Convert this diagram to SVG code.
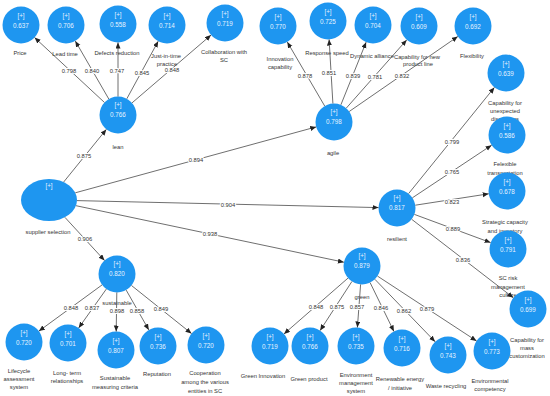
<svg xmlns="http://www.w3.org/2000/svg" width="550" height="396" viewBox="0 0 550 396">
<defs>
<style>
.c{fill:#1e96f0}
.in{font-family:"Liberation Sans",Arial,sans-serif;font-size:6.3px;fill:#e6f3ff;text-anchor:middle}
.lb{font-family:"Liberation Sans",Arial,sans-serif;font-size:5.8px;fill:#333;text-anchor:middle}
.e{stroke:#4a4a4a;stroke-width:0.8;fill:none;marker-end:url(#ah)}
.el{font-family:"Liberation Sans",Arial,sans-serif;font-size:5.8px;fill:#333;text-anchor:middle;stroke:#fff;stroke-width:2.2;paint-order:stroke;stroke-linejoin:round}
</style>
<marker id="ah" markerUnits="userSpaceOnUse" markerWidth="7" markerHeight="6" refX="6" refY="2.5" orient="auto">
<path d="M0,0 L6,2.5 L0,5 z" fill="#222"/>
</marker>
</defs>
<rect width="550" height="396" fill="#fff"/>

<g id="price"><circle class="c" cx="21" cy="25" r="18.5"/><text class="in" x="21" y="18">[+]</text><text class="in" x="21" y="28">0.637</text><text class="lb" x="20" y="55">Price</text></g>
<g id="lead-time"><circle class="c" cx="66" cy="25" r="18.5"/><text class="in" x="66" y="18">[+]</text><text class="in" x="66" y="28">0.706</text><text class="lb" x="65" y="56">Lead time</text></g>
<g id="defects-reduction"><circle class="c" cx="118" cy="24" r="18.5"/><text class="in" x="118" y="17">[+]</text><text class="in" x="118" y="27">0.558</text><text class="lb" x="117" y="55">Defects reduction</text></g>
<g id="just-in-time"><circle class="c" cx="167" cy="25" r="18.5"/><text class="in" x="167" y="18">[+]</text><text class="in" x="167" y="28">0.714</text><text class="lb" x="166" y="58">Just-in-time</text><text class="lb" x="167" y="66">practice</text></g>
<g id="collaboration"><circle class="c" cx="225" cy="23" r="18.5"/><text class="in" x="225" y="16">[+]</text><text class="in" x="225" y="26">0.719</text><text class="lb" x="224" y="54">Collaboration with</text><text class="lb" x="224" y="62">SC</text></g>
<g id="innovation"><circle class="c" cx="278" cy="26" r="18.5"/><text class="in" x="278" y="19">[+]</text><text class="in" x="278" y="29">0.770</text><text class="lb" x="280" y="61">Innovation</text><text class="lb" x="280" y="69">capability</text></g>
<g id="response-speed"><circle class="c" cx="328" cy="21" r="18.5"/><text class="in" x="328" y="14">[+]</text><text class="in" x="328" y="24">0.725</text><text class="lb" x="327" y="55">Response speed</text></g>
<g id="dynamic-alliance"><circle class="c" cx="373" cy="25" r="18.5"/><text class="in" x="373" y="18">[+]</text><text class="in" x="373" y="28">0.704</text><text class="lb" x="372" y="58">Dynamic alliance</text></g>
<g id="new-product-line"><circle class="c" cx="419" cy="26" r="18.5"/><text class="in" x="419" y="19">[+]</text><text class="in" x="419" y="29">0.609</text><text class="lb" x="417" y="59">Capability for new</text><text class="lb" x="418" y="66">product line</text></g>
<g id="flexibility"><circle class="c" cx="473" cy="26" r="18.5"/><text class="in" x="473" y="19">[+]</text><text class="in" x="473" y="29">0.692</text><text class="lb" x="472" y="58">Flexibility</text></g>
<g id="unexpected-disruptions"><circle class="c" cx="506" cy="73" r="18.5"/><text class="in" x="506" y="66">[+]</text><text class="in" x="506" y="76">0.639</text><text class="lb" x="505" y="105">Capability for</text><text class="lb" x="505" y="113">unexpected</text><text class="lb" x="505" y="121">disruptions</text></g>
<g id="flexible-transportation"><circle class="c" cx="507" cy="135" r="18.5"/><text class="in" x="507" y="128">[+]</text><text class="in" x="507" y="138">0.586</text><text class="lb" x="505" y="166">Felexible</text><text class="lb" x="505" y="175">transportation</text></g>
<g id="strategic-capacity"><circle class="c" cx="507" cy="191" r="18.5"/><text class="in" x="507" y="184">[+]</text><text class="in" x="507" y="194">0.678</text><text class="lb" x="505" y="224">Strategic capacity</text><text class="lb" x="505" y="233">and inventory</text></g>
<g id="sc-risk"><circle class="c" cx="508" cy="249" r="18.5"/><text class="in" x="508" y="242">[+]</text><text class="in" x="508" y="252">0.791</text><text class="lb" x="508" y="280">SC risk</text><text class="lb" x="508" y="289">management</text><text class="lb" x="508" y="297">culture</text></g>
<g id="mass-customization"><circle class="c" cx="528" cy="309" r="18.5"/><text class="in" x="528" y="302">[+]</text><text class="in" x="528" y="312">0.699</text><text class="lb" x="527" y="342">Capability for</text><text class="lb" x="527" y="350">mass</text><text class="lb" x="527" y="358">customization</text></g>

<g id="green-innovation"><circle class="c" cx="270" cy="346" r="18.5"/><text class="in" x="270" y="339">[+]</text><text class="in" x="270" y="349">0.719</text><text class="lb" x="263" y="378">Green Innovation</text></g>
<g id="green-product"><circle class="c" cx="310" cy="346" r="18.5"/><text class="in" x="310" y="339">[+]</text><text class="in" x="310" y="349">0.766</text><text class="lb" x="309" y="381">Green product</text></g>
<g id="environment-management"><circle class="c" cx="356" cy="346" r="18.5"/><text class="in" x="356" y="339">[+]</text><text class="in" x="356" y="349">0.735</text><text class="lb" x="356" y="377">Environment</text><text class="lb" x="356" y="385">management</text><text class="lb" x="356" y="393">system</text></g>
<g id="renewable-energy"><circle class="c" cx="402" cy="348" r="18.5"/><text class="in" x="402" y="341">[+]</text><text class="in" x="402" y="351">0.716</text><text class="lb" x="400" y="381">Renewable energy</text><text class="lb" x="400" y="390">/ initiative</text></g>
<g id="waste-recycling"><circle class="c" cx="448" cy="355" r="18.5"/><text class="in" x="448" y="348">[+]</text><text class="in" x="448" y="358">0.743</text><text class="lb" x="446" y="388">Waste recycling</text></g>
<g id="environmental-competency"><circle class="c" cx="492" cy="351" r="18.5"/><text class="in" x="492" y="344">[+]</text><text class="in" x="492" y="354">0.773</text><text class="lb" x="490" y="383">Environmental</text><text class="lb" x="490" y="391">competency</text></g>

<g id="lifecycle"><circle class="c" cx="24" cy="342" r="18.5"/><text class="in" x="24" y="335">[+]</text><text class="in" x="24" y="345">0.720</text><text class="lb" x="19" y="373">Lifecycle</text><text class="lb" x="19" y="381">assessment</text><text class="lb" x="19" y="389">system</text></g>
<g id="long-term"><circle class="c" cx="68" cy="343" r="18.5"/><text class="in" x="68" y="336">[+]</text><text class="in" x="68" y="346">0.701</text><text class="lb" x="67" y="375">Long- term</text><text class="lb" x="67" y="383">relationships</text></g>
<g id="sustainable-measuring"><circle class="c" cx="116" cy="350" r="18.5"/><text class="in" x="116" y="343">[+]</text><text class="in" x="116" y="353">0.807</text><text class="lb" x="115" y="380">Sustainable</text><text class="lb" x="115" y="389">measuring criteria</text></g>
<g id="reputation"><circle class="c" cx="158" cy="346" r="18.5"/><text class="in" x="158" y="339">[+]</text><text class="in" x="158" y="349">0.736</text><text class="lb" x="157" y="376">Reputation</text></g>
<g id="cooperation"><circle class="c" cx="206" cy="345" r="18.5"/><text class="in" x="206" y="338">[+]</text><text class="in" x="206" y="348">0.720</text><text class="lb" x="205" y="375">Cooperation</text><text class="lb" x="205" y="384">among the various</text><text class="lb" x="205" y="393">entities in SC</text></g>

<g id="lean"><circle class="c" cx="118" cy="115" r="18.5"/><text class="in" x="118" y="107">[+]</text><text class="in" x="118" y="117">0.766</text><text class="lb" x="118" y="149">lean</text></g>
<g id="agile"><circle class="c" cx="334" cy="122" r="18.5"/><text class="in" x="334" y="114">[+]</text><text class="in" x="334" y="124">0.798</text><text class="lb" x="333" y="155">agile</text></g>
<g id="resilient"><circle class="c" cx="397" cy="208" r="18.5"/><text class="in" x="397" y="200">[+]</text><text class="in" x="397" y="210">0.817</text><text class="lb" x="397" y="241">resilient</text></g>
<g id="green"><circle class="c" cx="362" cy="266" r="18.5"/><text class="in" x="362" y="258">[+]</text><text class="in" x="362" y="268">0.879</text><text class="lb" x="362" y="299">green</text></g>
<g id="sustainable"><circle class="c" cx="117" cy="274" r="18.5"/><text class="in" x="117" y="266">[+]</text><text class="in" x="117" y="276">0.820</text><text class="lb" x="117" y="305">sustainable</text></g>
<g id="supplier-selection"><ellipse class="c" cx="49" cy="200" rx="28" ry="21"/><text class="in" x="49" y="188">[+]</text><text class="lb" x="48" y="234">supplier selection</text></g>

<g id="connectors">
<line class="e" x1="63.6" y1="182.1" x2="106.3" y2="129.4"/>
<line class="e" x1="75.3" y1="192.8" x2="316.2" y2="126.9"/>
<line class="e" x1="77" y1="200.6" x2="378.5" y2="207.6"/>
<line class="e" x1="76" y1="205.7" x2="343.9" y2="262.2"/>
<line class="e" x1="64.9" y1="217.3" x2="104.5" y2="260.4"/>

<line class="e" x1="104.4" y1="102.4" x2="34.6" y2="37.6"/>
<line class="e" x1="108.8" y1="99" x2="75.3" y2="41"/>
<line class="e" x1="118" y1="96.5" x2="118" y2="42.5"/>
<line class="e" x1="126.8" y1="98.8" x2="158.2" y2="41.2"/>
<line class="e" x1="132" y1="102.9" x2="211" y2="35.1"/>

<line class="e" x1="324.7" y1="106" x2="287.3" y2="42"/>
<line class="e" x1="332.9" y1="103.5" x2="329.1" y2="39.5"/>
<line class="e" x1="340.9" y1="104.8" x2="366.1" y2="42.2"/>
<line class="e" x1="346.3" y1="108.1" x2="406.7" y2="39.9"/>
<line class="e" x1="349.2" y1="111.5" x2="457.8" y2="36.5"/>

<line class="e" x1="408.6" y1="193.6" x2="494.4" y2="87.4"/>
<line class="e" x1="412.4" y1="197.8" x2="491.6" y2="145.2"/>
<line class="e" x1="415.3" y1="205.2" x2="488.7" y2="193.8"/>
<line class="e" x1="414.4" y1="214.4" x2="490.6" y2="242.6"/>
<line class="e" x1="411.7" y1="219.3" x2="513.3" y2="297.7"/>

<line class="e" x1="348" y1="278.1" x2="284" y2="333.9"/>
<line class="e" x1="351.9" y1="281.5" x2="320.1" y2="330.5"/>
<line class="e" x1="360.6" y1="284.4" x2="357.4" y2="327.5"/>
<line class="e" x1="370.1" y1="282.6" x2="393.9" y2="331.4"/>
<line class="e" x1="374.9" y1="279.3" x2="435.1" y2="341.7"/>
<line class="e" x1="377.5" y1="276.1" x2="476.5" y2="340.9"/>

<line class="e" x1="102.1" y1="284.9" x2="38.9" y2="331.1"/>
<line class="e" x1="106.3" y1="289.1" x2="78.7" y2="327.9"/>
<line class="e" x1="116.8" y1="292.5" x2="116.2" y2="331.5"/>
<line class="e" x1="126.2" y1="290.1" x2="148.8" y2="329.9"/>
<line class="e" x1="131.5" y1="285.5" x2="191.5" y2="333.5"/>

<text class="el" x="84" y="158">0.875</text>
<text class="el" x="196" y="162">0.894</text>
<text class="el" x="228" y="207">0.904</text>
<text class="el" x="210" y="236">0.938</text>
<text class="el" x="85" y="241">0.906</text>
<text class="el" x="69" y="73">0.798</text>
<text class="el" x="92" y="73">0.840</text>
<text class="el" x="117" y="73">0.747</text>
<text class="el" x="142" y="75">0.845</text>
<text class="el" x="172" y="72">0.848</text>
<text class="el" x="305" y="78">0.878</text>
<text class="el" x="329" y="75">0.851</text>
<text class="el" x="353" y="78">0.839</text>
<text class="el" x="375" y="79">0.781</text>
<text class="el" x="402" y="78">0.832</text>
<text class="el" x="452" y="144">0.799</text>
<text class="el" x="452" y="174">0.765</text>
<text class="el" x="452" y="204">0.823</text>
<text class="el" x="453" y="231">0.889</text>
<text class="el" x="463" y="262">0.836</text>
<text class="el" x="316" y="309">0.848</text>
<text class="el" x="337" y="309">0.875</text>
<text class="el" x="357" y="309">0.857</text>
<text class="el" x="381" y="310">0.846</text>
<text class="el" x="404" y="313">0.862</text>
<text class="el" x="427" y="311">0.879</text>
<text class="el" x="71" y="310">0.848</text>
<text class="el" x="92" y="310">0.837</text>
<text class="el" x="117" y="313">0.898</text>
<text class="el" x="137" y="313">0.858</text>
<text class="el" x="161" y="311">0.849</text>
</g>
</svg>
